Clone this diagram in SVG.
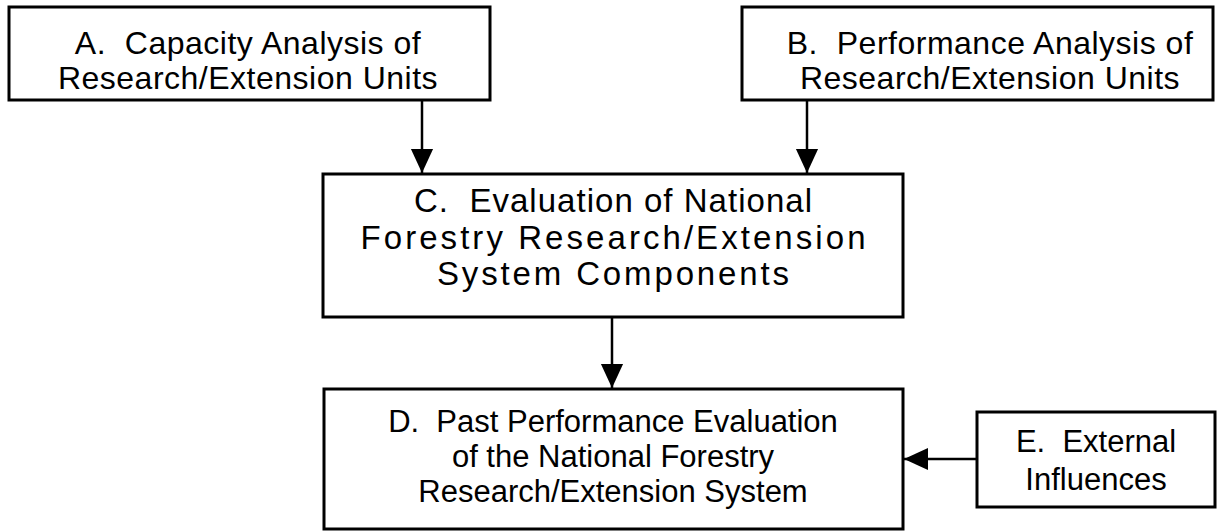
<svg xmlns="http://www.w3.org/2000/svg" width="1217" height="531" viewBox="0 0 1217 531">
<defs>
<style>
.box{fill:#fff;stroke:#000;stroke-width:3}
.t{font-family:"Liberation Sans",Arial,sans-serif;font-size:32px;letter-spacing:0.5px;fill:#000;text-anchor:middle;white-space:pre}
.tc{font-family:"Liberation Sans",Arial,sans-serif;font-size:33px;fill:#000;text-anchor:middle;white-space:pre}
.n{font-family:"Liberation Sans",Arial,sans-serif;font-size:31px;fill:#000;text-anchor:middle;white-space:pre}
.c{stroke:#000;stroke-width:2.5;fill:none}
</style>
<marker id="ah" markerWidth="24" markerHeight="26" viewBox="0 0 26 24" refX="26" refY="12" orient="auto" markerUnits="userSpaceOnUse">
<path d="M0,0 L26,12 L0,24 Z" fill="#000"/>
</marker>
</defs>
<rect width="1217" height="531" fill="#fff"/>
<g id="connectors">
<line class="c" x1="422" y1="100" x2="422" y2="173" marker-end="url(#ah)"/>
<line class="c" x1="807" y1="100" x2="807" y2="173" marker-end="url(#ah)"/>
<line class="c" x1="612" y1="317" x2="612" y2="388" marker-end="url(#ah)"/>
<line class="c" x1="977" y1="459" x2="904" y2="459" marker-end="url(#ah)"/>
</g>
<g id="nodeA">
<rect class="box" x="9" y="7" width="481" height="93"/>
<text class="t" x="248" y="54">A.  Capacity Analysis of</text>
<text class="t" x="248" y="89">Research/Extension Units</text>
</g>
<g id="nodeB">
<rect class="box" x="742" y="7" width="471" height="93"/>
<text class="t" x="990" y="54">B.  Performance Analysis of</text>
<text class="t" x="990" y="89">Research/Extension Units</text>
</g>
<g id="nodeC">
<rect class="box" x="323" y="174" width="580" height="143"/>
<text class="tc" x="613" y="212" textLength="398" lengthAdjust="spacing">C.  Evaluation of National</text>
<text class="tc" x="613" y="249" textLength="505" lengthAdjust="spacing">Forestry Research/Extension</text>
<text class="tc" x="613" y="285" textLength="352" lengthAdjust="spacing">System Components</text>
</g>
<g id="nodeD">
<rect class="box" x="324" y="389" width="579" height="140"/>
<text class="n" x="613" y="432">D.  Past Performance Evaluation</text>
<text class="n" x="613" y="467">of the National Forestry</text>
<text class="n" x="613" y="502">Research/Extension System</text>
</g>
<g id="nodeE">
<rect class="box" x="977" y="412" width="238" height="95"/>
<text class="n" x="1096" y="452">E.  External</text>
<text class="n" x="1096" y="490">Influences</text>
</g>
</svg>
